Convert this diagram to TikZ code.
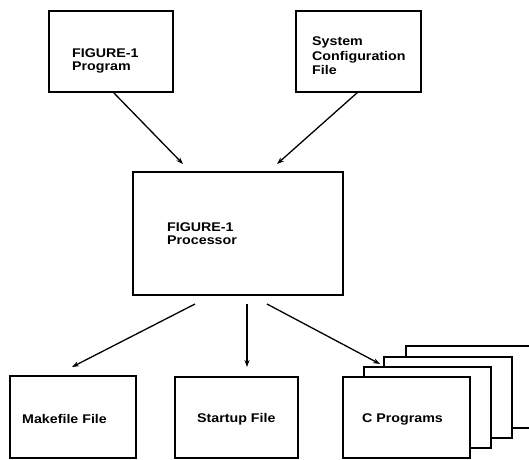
\documentclass[tikz,border=0pt]{standalone}
\usepackage{fontspec}
\setmainfont{Liberation Sans}[FakeStretch=1.13]
\usetikzlibrary{arrows.meta}
\begin{document}
\begin{tikzpicture}[x=1pt,y=-1pt,
  boxst/.style={draw=black,line width=1.3pt,fill=white},
  lbl/.style={anchor=west,align=left,inner sep=0pt,font=\fontsize{12.6}{13}\selectfont\bfseries},
  arr/.style={line width=1.3pt,-{Stealth[length=7pt,width=5pt]}}]
\useasboundingbox (0,0) rectangle (529,459);
% boxes
\draw[boxst] (49,11) rectangle (173,92);
\node[lbl] (t1) at (72,61) {FIGURE-1\\Program};
\draw[boxst] (296,11) rectangle (421,92);
\node[lbl,font=\fontsize{12.6}{14.5}\selectfont\bfseries] (t2) at (312,56) {System\\Configuration\\File};
\draw[boxst] (133,172) rectangle (343,295);
\node[lbl] (t3) at (167,233.5) {FIGURE-1\\Processor};
\draw[boxst] (10,376) rectangle (136,458);
\node[lbl] (t4) at (22,419) {Makefile File};
\draw[boxst] (175,377) rectangle (298,458);
\node[lbl] (t5) at (197,419) {Startup File};
% stack
\draw[boxst] (406,346) rectangle (540,428);
\draw[boxst] (384,357) rectangle (512,438);
\draw[boxst] (364,367) rectangle (491,448);
\draw[boxst] (343,377) rectangle (470,458);
\node[lbl] (t6) at (362,419) {C Programs};
% arrow coordinates
\coordinate (a1s) at (113,92);  \coordinate (a1e) at (183,164);
\coordinate (a2s) at (358,92);  \coordinate (a2e) at (277,164);
\coordinate (a3s) at (195,304); \coordinate (a3e) at (72,367);
\coordinate (a4s) at (247,304); \coordinate (a4e) at (247,367);
\coordinate (a5s) at (267,304); \coordinate (a5e) at (380,364);
\draw[arr] (a1s) -- (a1e);
\draw[arr] (a2s) -- (a2e);
\draw[arr] (a3s) -- (a3e);
\draw[arr] (a4s) -- (a4e);
\draw[arr] (a5s) -- (a5e);
\end{tikzpicture}
\end{document}
